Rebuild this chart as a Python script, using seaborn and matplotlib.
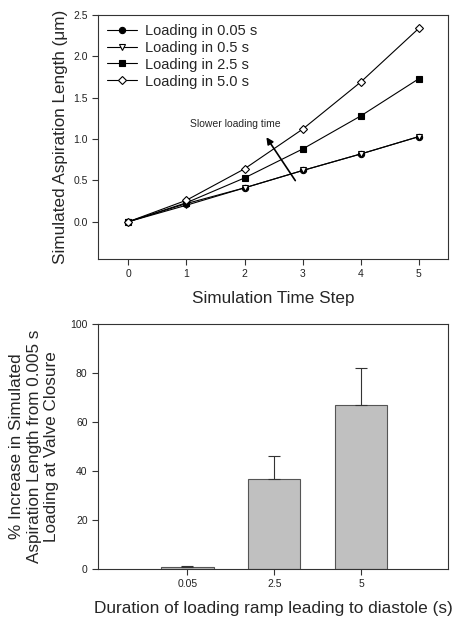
import numpy as np
import pandas as pd
import matplotlib
matplotlib.use("Agg")
import matplotlib.pyplot as plt
import seaborn as sns

# Data
steps = [0, 1, 2, 3, 4, 5]
load_005 = [0.0, 0.22, 0.41, 0.62, 0.82, 1.03]
load_05 = [0.0, 0.20, 0.41, 0.62, 0.82, 1.03]
load_25 = [0.0, 0.23, 0.53, 0.88, 1.28, 1.73]
load_50 = [0.0, 0.26, 0.64, 1.12, 1.69, 2.34]
series_names = ["Loading in 0.05 s", "Loading in 0.5 s", "Loading in 2.5 s", "Loading in 5.0 s"]

ramp_labels = ["0.05", "2.5", "5"]
pct_increase = [0.8, 36.7, 66.8]
pct_err = [0.3, 9.3, 15.2]

sns.set_style("ticks")
plt.rcParams['font.family'] = ['Liberation Sans', 'DejaVu Sans']

fig = plt.figure(figsize=(4.57, 6.24), dpi=100)
ax1 = fig.add_axes([98/457, 1 - 259/624, 350/457, 244/624])
ax2 = fig.add_axes([98/457, 1 - 569/624, 350/457, 245/624])

# top panel: lines
styles = [("o", "black"), ("v", "white"), ("s", "black"), ("D", "white")]
for vals, name, (mk, fc) in zip([load_005, load_05, load_25, load_50], series_names, styles):
    df = pd.DataFrame({"step": steps, "len": vals})
    sns.lineplot(data=df, x="step", y="len", ax=ax1, color="black", lw=0.8,
                 marker=mk, markerfacecolor=fc, markeredgecolor="black",
                 markersize=4.5, markeredgewidth=0.8, label=name)

ax1.set_xlim(-0.52, 5.5)
ax1.set_ylim(-0.45, 2.5)
ax1.set_xticks(steps)
ax1.set_yticks([0.0, 0.5, 1.0, 1.5, 2.0, 2.5])
ax1.set_yticklabels(["0.0", "0.5", "1.0", "1.5", "2.0", "2.5"])
ax1.set_xlabel("Simulation Time Step", fontsize=12.3, labelpad=8)
ax1.set_ylabel("Simulated Aspiration Length (\u03bcm)", fontsize=12.3, labelpad=4)
ax1.tick_params(labelsize=7.5, length=4, width=0.8, color="#333333", labelcolor="#222222")
ax1.legend(loc="upper left", frameon=False, fontsize=10.5, handlelength=2.1,
           labelspacing=0.2, borderaxespad=0.2, handletextpad=0.5)
ax1.annotate("", xy=(2.35, 1.05), xytext=(2.9, 0.47),
             arrowprops=dict(arrowstyle="-|>", color="black", lw=1.2, mutation_scale=10))
ax1.text(1.85, 1.18, "Slower loading time", fontsize=7.5, ha="center", va="center")

# bottom panel: bars
bdf = pd.DataFrame({"ramp": ramp_labels, "pct": pct_increase})
sns.barplot(data=bdf, x="ramp", y="pct", ax=ax2, color="#c0c0c0", edgecolor="#555555",
            linewidth=0.8, width=0.6, saturation=1)
ax2.errorbar(range(len(ramp_labels)), pct_increase, yerr=[np.zeros(3), pct_err],
             fmt="none", ecolor="#333333", elinewidth=0.8, capsize=4, capthick=0.8)
ax2.set_xlim(-1.03, 3.0)
ax2.set_ylim(0, 100)
ax2.set_yticks([0, 20, 40, 60, 80, 100])
ax2.set_xlabel("Duration of loading ramp leading to diastole (s)", fontsize=12.4, labelpad=8)
ax2.set_ylabel("% Increase in Simulated\nAspiration Length from 0.005 s\nLoading at Valve Closure",
               fontsize=12.3, labelpad=8)
ax2.tick_params(labelsize=7.5, length=4, width=0.8, color="#333333", labelcolor="#222222")

for ax in (ax1, ax2):
    for sp in ax.spines.values():
        sp.set_visible(True)
        sp.set_linewidth(0.8)
        sp.set_color("#333333")
    ax.tick_params(top=False, right=False)

fig.savefig("out.png", dpi=100)
